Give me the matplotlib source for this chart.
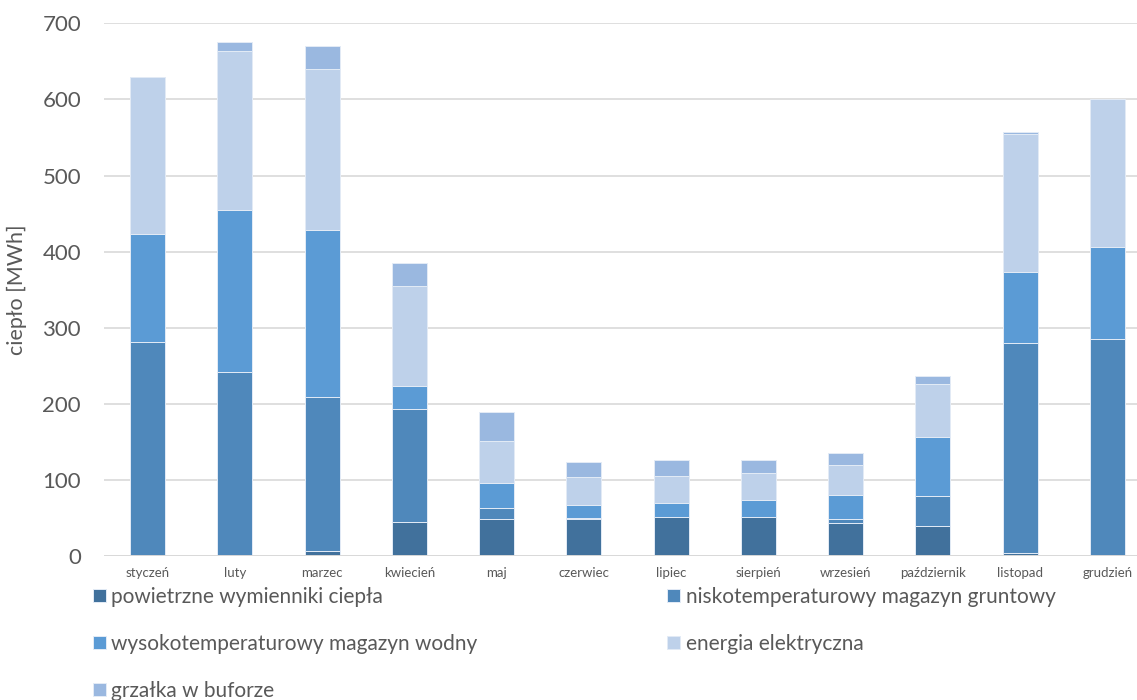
import matplotlib.pyplot as plt
import numpy as np

plt.rcParams['font.family'] = ['Lato', 'DejaVu Sans']

# monthly heat sources [MWh]
months = ['styczeń', 'luty', 'marzec', 'kwiecień', 'maj', 'czerwiec',
          'lipiec', 'sierpień', 'wrzesień', 'październik', 'listopad', 'grudzień']
powietrzne = [0, 0, 7, 45, 49, 48, 51, 51, 44, 39, 4, 0]
niskotemp = [281, 242, 202, 148, 14, 1.5, 0, 0, 5, 39.5, 276, 285.5]
wysokotemp = [142, 213, 219, 30, 33, 18, 19, 23, 31, 78.5, 93, 120.5]
energia = [206, 208, 212, 132, 55, 36, 35, 35, 40, 69, 182, 194]
grzalka = [1, 12, 30, 30, 38, 20, 21, 17, 15, 11, 2, 0.5]

series = [
    ('powietrzne wymienniki ciepła', powietrzne, '#41719C'),
    ('niskotemperaturowy magazyn gruntowy', niskotemp, '#4F88BB'),
    ('wysokotemperaturowy magazyn wodny', wysokotemp, '#5B9BD5'),
    ('energia elektryczna', energia, '#BED1EA'),
    ('grzałka w buforze', grzalka, '#9AB8E0'),
]

fig = plt.figure(figsize=(11.37, 7.0), dpi=100)
ax = fig.add_axes([104 / 1137, 1 - 556 / 700, 1 - 104 / 1137, (556 - 23.3) / 700])

x = np.arange(len(months))
bottom = np.zeros(len(months))
handles = []
for name, vals, color in series:
    b = ax.bar(x, vals, 0.40, bottom=bottom, color=color, label=name,
               edgecolor='#e3ebf6', linewidth=0.7, zorder=3)
    handles.append(b)
    bottom += np.array(vals)

ax.set_xlim(-0.5, 11.34)
ax.set_ylim(0, 700)
ax.set_yticks(range(0, 701, 100))
ax.set_xticks(x)
ax.set_xticklabels(months, fontsize=9.5, color='#595959')
ax.tick_params(axis='y', labelsize=16, labelcolor='#595959', length=0, pad=16.5)
ax.tick_params(axis='x', length=0, pad=8)
ax.grid(axis='y', color='#d9d9d9', linewidth=1.2, zorder=0)
for s in ax.spines.values():
    s.set_visible(False)
ax.axhline(0, color='#d9d9d9', linewidth=1.4, zorder=4)
ax.set_ylabel('ciepło [MWh]', fontsize=15.5, color='#595959')
ax.yaxis.set_label_coords(-0.0745, 0.5)

# legend filled column by column, so reorder to read row by row
order = [0, 2, 4, 1, 3]
leg = fig.legend([handles[i] for i in order], [series[i][0] for i in order],
                 ncol=2, loc='upper left', bbox_to_anchor=(93 / 1137, 1 - 587 / 700),
                 frameon=False, fontsize=15, handlelength=0.6, handleheight=0.6,
                 handletextpad=0.28, labelspacing=1.3, columnspacing=9.1,
                 borderaxespad=0, borderpad=0)
for t in leg.get_texts():
    t.set_color('#595959')

fig.savefig('out.png', dpi=100)
